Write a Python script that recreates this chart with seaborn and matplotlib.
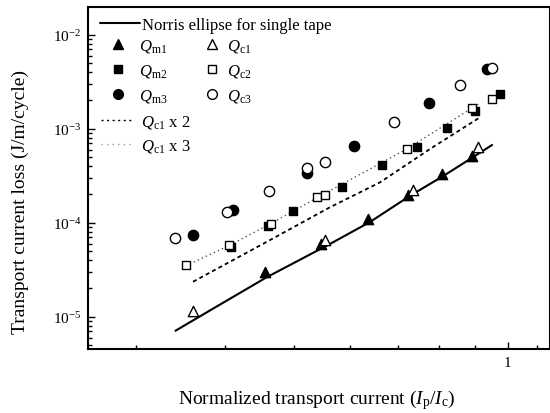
import numpy as np
import pandas as pd
import matplotlib
matplotlib.use("Agg")
import matplotlib.pyplot as plt
import seaborn as sns
from matplotlib.lines import Line2D
from matplotlib.ticker import FixedLocator, FixedFormatter, NullFormatter, LogLocator, LogFormatterSciNotation

# ---------------- data ----------------
qm1_x = [0.456, 0.547, 0.635, 0.723, 0.807, 0.890]
qm1_y = [2.97e-5, 5.94e-5, 1.10e-4, 1.97e-4, 3.30e-4, 5.09e-4]

qc1_x = [0.361, 0.553, 0.736, 0.909]
qc1_y = [1.16e-5, 6.60e-5, 2.25e-4, 6.35e-4]

qm2_x = [0.408, 0.460, 0.499, 0.584, 0.665, 0.744, 0.822, 0.899, 0.975]
qm2_y = [5.52e-5, 9.35e-5, 1.34e-4, 2.40e-4, 4.12e-4, 6.35e-4, 1.01e-3, 1.556e-3, 2.34e-3]

qc2_x = [0.353, 0.406, 0.465, 0.539, 0.553, 0.722, 0.891, 0.951]
qc2_y = [3.55e-5, 5.80e-5, 9.70e-5, 1.89e-4, 1.97e-4, 6.09e-4, 1.651e-3, 2.07e-3]

qm3_x = [0.361, 0.411, 0.522, 0.608, 0.775, 0.934]
qm3_y = [7.41e-5, 1.366e-4, 3.38e-4, 6.51e-4, 1.866e-3, 4.32e-3]

qc3_x = [0.340, 0.403, 0.461, 0.522, 0.553, 0.692, 0.856, 0.951]
qc3_y = [6.83e-5, 1.29e-4, 2.19e-4, 3.82e-4, 4.40e-4, 1.171e-3, 2.92e-3, 4.40e-3]

norris_x = [0.341, 0.394, 0.458, 0.562, 0.640, 0.728, 0.811, 0.885, 0.950]
norris_y = [7.10e-6, 1.35e-5, 2.63e-5, 5.94e-5, 1.02e-4, 1.93e-4, 3.14e-4, 4.77e-4, 6.72e-4]

qc1x2_x = [0.361, 0.466, 0.562, 0.661, 0.777, 0.909]
qc1x2_y = [2.36e-5, 6.72e-5, 1.46e-4, 2.69e-4, 6.09e-4, 1.292e-3]

qc1x3_x = [0.357, 0.407, 0.463, 0.562, 0.721, 0.909]
qc1x3_y = [3.64e-5, 5.80e-5, 9.70e-5, 2.19e-4, 6.09e-4, 1.834e-3]

x_minor_ticks = [0.3, 0.4, 0.5, 0.6, 0.7, 0.8, 0.9, 1.1]
x_major_ticks = [1]
x_major_labels = ["1"]

labels = {
    "norris": "Norris ellipse for single tape",
    "qm1": r"$Q_{\mathrm{m1}}$", "qc1": r"$Q_{\mathrm{c1}}$",
    "qm2": r"$Q_{\mathrm{m2}}$", "qc2": r"$Q_{\mathrm{c2}}$",
    "qm3": r"$Q_{\mathrm{m3}}$", "qc3": r"$Q_{\mathrm{c3}}$",
    "x2": r"$Q_{\mathrm{c1}}$ x 2", "x3": r"$Q_{\mathrm{c1}}$ x 3",
}

# ---------------- style ----------------
sns.set_theme(style="ticks")
plt.rcParams['font.family'] = ['Liberation Serif', 'DejaVu Serif']
plt.rcParams['mathtext.fontset'] = 'custom'
plt.rcParams['mathtext.rm'] = 'Liberation Serif'
plt.rcParams['mathtext.it'] = 'Liberation Serif:italic'
plt.rcParams['mathtext.bf'] = 'Liberation Serif:bold'
plt.rcParams['text.color'] = 'black'
plt.rcParams['axes.labelcolor'] = 'black'
plt.rcParams['xtick.color'] = 'black'
plt.rcParams['ytick.color'] = 'black'

W, H = 550, 414
fig = plt.figure(figsize=(W / 100, H / 100), dpi=100)
L, R, T, B = 88.3, 549.5, 8.3, 350.0
AW, AH = R - L, B - T
ax = fig.add_axes([L / W, 1 - B / H, AW / W, AH / H])
ax.set_xscale('log')
ax.set_yscale('log')

def line(x, y, **kw):
    df = pd.DataFrame({"x": x, "y": y})
    sns.lineplot(data=df, x="x", y="y", ax=ax, sort=False, estimator=None, **kw)

def scat(x, y, marker, filled, s):
    df = pd.DataFrame({"x": x, "y": y})
    sns.scatterplot(data=df, x="x", y="y", ax=ax, marker=marker, s=s,
                    color="black" if filled else "white", edgecolor="black",
                    linewidth=1.0, zorder=4 if not filled else 3)

line(norris_x, norris_y, color="black", linewidth=1.5)
line(qc1x2_x, qc1x2_y, color="black", linewidth=1.3, linestyle=(0, (2.2, 1.8)))
line(qc1x3_x, qc1x3_y, color="#555555", linewidth=1.0, linestyle=(0, (1, 2.2)))

scat(qm1_x, qm1_y, "^", True, 55)
scat(qm2_x, qm2_y, "s", True, 40)
scat(qm3_x, qm3_y, "o", True, 55)
scat(qc1_x, qc1_y, "^", False, 55)
scat(qc2_x, qc2_y, "s", False, 40)
scat(qc3_x, qc3_y, "o", False, 55)

ax.set_xlim(0.2572, 1.144)
ax.set_ylim(4.54e-6, 1.96e-2)

ax.xaxis.set_major_locator(FixedLocator(x_major_ticks))
ax.xaxis.set_major_formatter(FixedFormatter(x_major_labels))
ax.xaxis.set_minor_locator(FixedLocator(x_minor_ticks))
ax.xaxis.set_minor_formatter(NullFormatter())
ax.yaxis.set_major_locator(LogLocator(base=10, numticks=10))
ax.yaxis.set_major_formatter(LogFormatterSciNotation())
ax.yaxis.set_minor_locator(LogLocator(base=10, subs=np.arange(2, 10), numticks=20))
ax.yaxis.set_minor_formatter(NullFormatter())

ax.tick_params(which='both', direction='in', top=False, right=False, labelsize=11, width=1.0)
ax.tick_params(which='major', length=5, pad=5)
ax.tick_params(which='minor', length=3)
for sp in ax.spines.values():
    sp.set_visible(True)
    sp.set_linewidth(1.5)
    sp.set_color("black")

ax.set_xlabel(r"Normalized transport current ($I_{\mathrm{p}}/I_{\mathrm{c}}$)", fontsize=14)
ax.set_ylabel("Transport current loss (J/m/cycle)", fontsize=14)
ax.xaxis.set_label_coords((317 - L) / AW, -(388 - B) / AH)
ax.yaxis.set_label_coords(-(L - 29) / AW, 1 - (202 - T) / AH)

# ---------------- legend ----------------
def fig_anchor(px, py):
    return (px / W, 1 - py / H)

fs = 12
leg_kw = dict(frameon=False, loc="upper left", borderpad=0, borderaxespad=0,
              fontsize=fs, bbox_transform=fig.transFigure)

h_norris = [Line2D([], [], color="black", lw=1.5)]
l1 = ax.legend(h_norris, [labels["norris"]], bbox_to_anchor=fig_anchor(100, 18),
               handlelength=2.4, handletextpad=0.12, **leg_kw)
ax.add_artist(l1)

mk = dict(linestyle="none", markeredgecolor="black", markeredgewidth=1.0)
h_filled = [Line2D([], [], marker="^", markerfacecolor="black", markersize=7, **mk),
            Line2D([], [], marker="s", markerfacecolor="black", markersize=6, **mk),
            Line2D([], [], marker="o", markerfacecolor="black", markersize=7, **mk)]
h_open = [Line2D([], [], marker="^", markerfacecolor="white", markersize=7, **mk),
          Line2D([], [], marker="s", markerfacecolor="white", markersize=6, **mk),
          Line2D([], [], marker="o", markerfacecolor="white", markersize=7, **mk)]
l2 = ax.legend(h_filled, [labels["qm1"], labels["qm2"], labels["qm3"]],
               bbox_to_anchor=fig_anchor(108, 38), handlelength=1.25,
               handletextpad=0.6, labelspacing=0.48, **leg_kw)
ax.add_artist(l2)
l3 = ax.legend(h_open, [labels["qc1"], labels["qc2"], labels["qc3"]],
               bbox_to_anchor=fig_anchor(202, 38), handlelength=1.25,
               handletextpad=0.25, labelspacing=0.48, **leg_kw)
ax.add_artist(l3)

h_lines = [Line2D([], [], color="black", lw=1.0, linestyle=(0, (1.5, 2.5))),
           Line2D([], [], color="#999999", lw=1.0, linestyle=(0, (1, 3)))]
l4 = ax.legend(h_lines, [labels["x2"], labels["x3"]], bbox_to_anchor=fig_anchor(101, 114),
               handlelength=2.0, handletextpad=0.4, labelspacing=0.42, **leg_kw)

fig.savefig("out.png", dpi=100)
